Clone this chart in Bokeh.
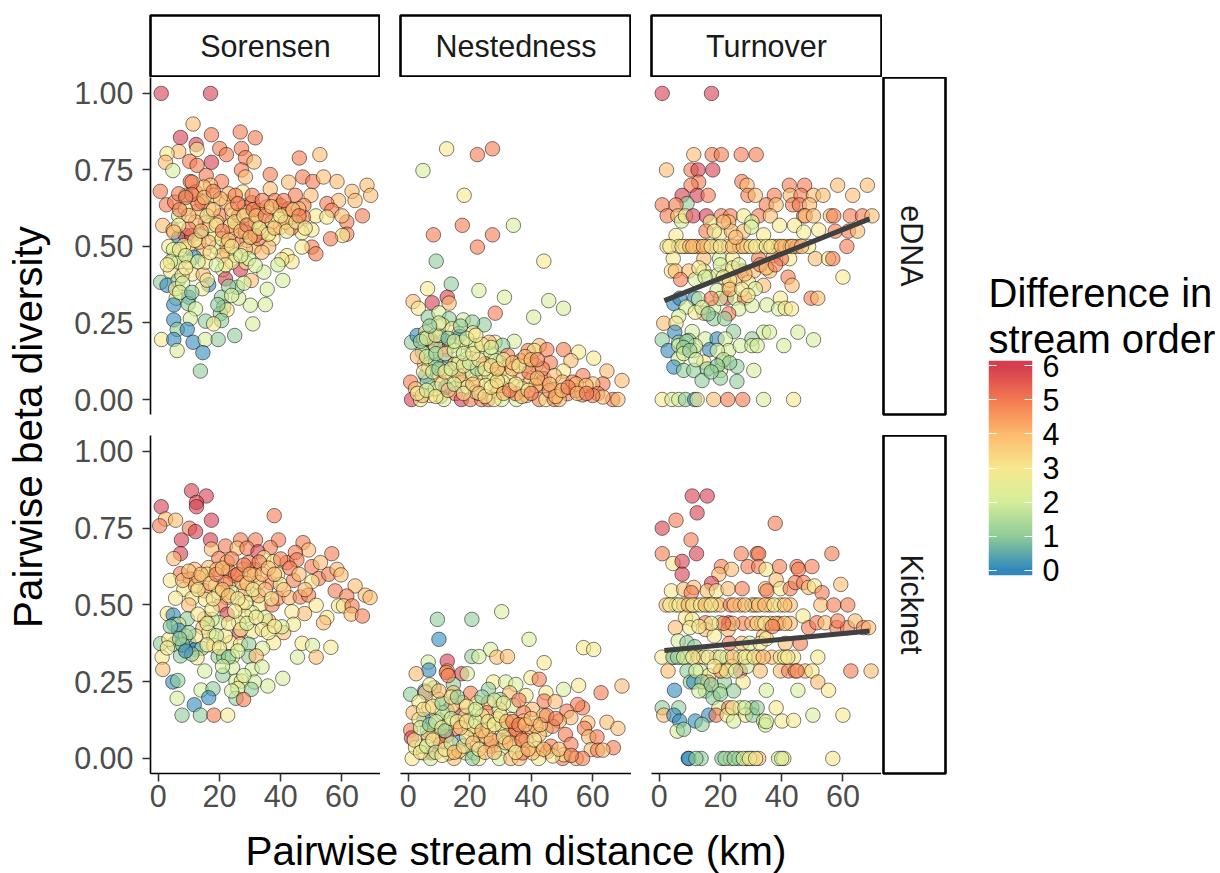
import math
import numpy as np
from bokeh.core.properties import value
from bokeh.embed import file_html
from bokeh.layouts import column, row
from bokeh.models import ColumnDataSource, FixedTicker, LinearAxis, LinearColorMapper, NumeralTickFormatter, Range1d, Title
from bokeh.plotting import figure
from bokeh.resources import INLINE

# (distance km, beta diversity, difference in stream order)
sorensen_edna = [
(1.0,1.0,6),(17.1,1.0,6),(11.4,.90,4),(7.3,.856,6),(17.4,.865,5),(26.8,.874,5),(31.7,.855,5),(12.4,.833,6),(12.7,.817,3),(20.1,.82,5),
(22.3,.80,5),(27.2,.82,5),(6.7,.81,4),(2.9,.803,3),(2.4,.775,4),(4.8,.748,2),(10.3,.778,5),(12.7,.765,5),(17.4,.775,6),(28.5,.79,5),
(31.3,.776,4),(46.1,.789,5),(52.8,.80,4),(27.2,.75,5),(28.5,.727,4),(15.7,.732,5),(10.5,.712,5),(20.7,.712,5),(17.1,.70,4),(36.6,.735,5),
(42.6,.71,4),(47.2,.727,5),(50.5,.712,5),(54,.727,4),(58.4,.712,4),(68.2,.70,4),(63.3,.68,4),(69.4,.667,4),(64.3,.65,4),(58.9,.65,4),
(55.1,.64,5),(66.7,.60,5),(56.7,.618,5),(61.6,.58,5),(60,.60,4),(51.5,.60,3),(55.1,.596,3),(61.6,.54,5),(60.2,.536,3),(56.3,.525,5),
(50.2,.498,5),(51.5,.476,5),(47,.498,3),(50.2,.554,3),(47,.545,3),(42.1,.47,3),(43.7,.45,3),(40.4,.457,3),(39.1,.44,2),(40.7,.389,2),
(35.6,.36,2),(35,.31,2),(30.1,.308,2),(30.9,.247,2),(34.5,.416,2),(26.3,.331,2),(.7,.68,5),(2.7,.636,5),(5.4,.645,5),(9.1,.667,1),
(6.7,.672,5),(1.5,.569,4),(4.9,.554,4),(6.7,.60,2),(6.7,.528,0),(8.9,.536,6),(10.9,.536,6),(13.8,.541,1),(15.4,.577,5),(16.5,.625,3),
(12.7,.614,4),(18.1,.667,3),(22.3,.645,4),(23,.672,4),(27.6,.678,3),(20.3,.60,5),(24.3,.60,3),(25.8,.569,5),(30.4,.585,2),(27.9,.628,5),
(30.7,.643,5),(33.9,.585,3),(36.6,.688,4),(38.1,.65,5),(41,.618,4),(38.8,.60,3),(44.8,.667,5),(49.9,.667,4),(47.6,.634,5),(43.7,.596,3),
(47.4,.596,5),(39.9,.563,4),(43.5,.56,5),(37.5,.525,3),(31.2,.498,4),(36.1,.498,4),(29,.52,2),(25.8,.52,5),(32.8,.525,5),(18.7,.538,3),
(19,.498,2),(22.5,.481,3),(9.8,.498,4),(14.9,.487,4),(5.1,.46,3),(11.8,.465,0),(4,.42,3),(6.7,.449,2),(11.1,.41,3),(14.7,.408,4),
(21.1,.424,2),(22,.394,6),(26.9,.424,6),(28.7,.447,3),(30.4,.389,4),(25.8,.367,1),(.8,.383,1),(2.9,.373,0),(6.5,.389,1),(16.5,.375,0),
(14.4,.362,3),(5.9,.331,2),(10,.334,0),(5.1,.309,0),(9.8,.313,1),(12.2,.296,2),(20.7,.334,1),(21.4,.302,1),(20.3,.28,1),(22.5,.293,3),
(20.7,.258,1),(15.5,.256,1),(18.1,.247,3),(10.5,.264,2),(5.1,.26,0),(6.2,.229,1),(9.5,.229,0),(1.1,.196,3),(5.1,.196,0),(6.2,.16,2),
(11.4,.187,0),(15.4,.196,2),(19.6,.196,1),(25,.209,1),(14.6,.153,0),(13.8,.093,1),(24.1,.547,4),(22.5,.503,4),(28.5,.547,5),(33.9,.547,4),
(31.7,.536,5),(17.1,.569,3),(19.2,.58,4),(12.2,.58,4),(10,.558,5),(13.3,.514,4),(6.7,.569,3),(5.1,.547,4),(8.4,.503,3),(16.5,.514,4),
(20.9,.525,3),(23.6,.569,4),(26.3,.601,5),(29,.612,4),(32.8,.618,5),(35.5,.629,4),(37.2,.58,3),(41.5,.58,4),(39.9,.634,5),(42.6,.623,5),
(45.9,.623,4),(31.7,.58,3),(28.5,.492,4),(25.2,.471,3),(33.9,.481,4),(29.6,.46,2),(31.7,.438,2),(24.1,.449,3),(20.9,.471,4),(15.4,.449,3),
(10,.449,3),(7.8,.405,3),(5.7,.362,3),(12.2,.678,5),(14.9,.694,4),(8.9,.623,3),(14.3,.645,5),(20.3,.656,4),(25.2,.667,5),(30.7,.667,5),
(10,.601,4),(11.1,.71,5),
(3.5,.50,3),(5,.49,2),(7,.49,3),(9,.47,2),(12,.52,3),(14,.55,4),(16,.60,3),(18,.62,4),(19,.57,3),(21,.55,5),(23,.52,4),(24,.62,4),
(25,.58,3),(26,.64,5),(27,.55,4),(28,.60,3),(29,.57,5),(30,.53,4),(31,.62,5),(32,.60,4),(33,.56,3),(34,.65,5),(35,.60,5),(36,.54,3),
(37,.63,4),(38,.56,4),(40,.60,3),(41,.65,5),(42,.55,3),(44,.62,4),(45,.58,3),(46,.60,5),(48,.56,3),(22,.44,3),(24,.50,3),(27,.47,2),
(19,.44,2),(17,.48,3),(13,.45,2),(16,.39,3),(8,.38,2),(7,.35,2),(4,.45,2),(9,.43,3),(3,.44,3),(11,.35,1),(19.5,.31,1),(23,.37,1),
(24,.34,2),(28,.38,2),(13,.64,5),(11,.67,5),(9,.66,5),(7,.62,5),(15,.66,4),(18,.68,5),
]

nestedness_edna = [
(12.5,.819,3),(4.8,.748,2),(22.5,.80,5),(27.4,.819,5),(18.2,.667,3),(17.6,.569,5),(8.2,.538,5),(27.4,.538,5),(22.5,.498,5),(34.2,.569,2),
(9.1,.452,1),(44.1,.452,3),(14,.377,1),(6.3,.362,3),(23,.356,2),(31.3,.334,2),(45.7,.323,2),(50.5,.298,2),(40.8,.269,2),(28.3,.282,5),
(1.6,.32,4),(3.3,.298,3),(7.8,.316,6),(12.7,.334,6),(13.3,.315,4),(6.5,.269,1),(10,.283,2),(13.3,.264,1),(17.9,.26,2),(24.7,.244,1),
(20.9,.253,1),(11.1,.244,3),(1.1,.187,1),(2.9,.209,0),(5.7,.22,3),(7.1,.198,0),(7.8,.187,6),(11.6,.193,0),(14.3,.231,3),(16.5,.215,3),
(16.7,.206,0),(21.1,.218,3),(34.5,.19,2),(28.2,.187,3),(30.7,.177,1),(42.6,.176,4),(39,.16,5),(41,.16,3),(45.1,.163,5),(50.5,.163,5),
(55.4,.155,3),(60.3,.135,3),(52.9,.127,4),(46.2,.12,5),(50.5,.093,3),(64.6,.093,4),(69.5,.062,4),(56.8,.078,5),(63.3,.051,5),(60,.051,4),
(.8,.057,5),(12.5,.163,6),(12,.127,0),(5.7,.078,0),(5.3,.117,4),(6.7,.106,2),(15.2,.117,4),(19.2,.133,2),(20,.179,2),(18.2,.095,1),
(24.1,.155,2),(26.9,.149,2),(32.3,.144,5),(25,.117,5),(29.6,.122,1),(31.7,.106,4),(36.6,.127,5),(41.5,.111,3),(36.4,.086,4),(27.9,.078,3),
(22.5,.062,3),(10,.068,4),(6.2,.057,1),(14.3,.062,2),(17.6,.057,4),(19.2,.04,2),(33.9,.046,3),(39.9,.062,4),(43,.051,5),(44.2,.068,5),
(47.8,.032,4),(51.8,.019,5),(56.7,.015,5),(61.6,.019,5),(66.5,0,5),(68.2,0,4),(1.1,0,6),(10.5,.011,4),(7.3,.013,3),(4,0,3),
(11.6,0,2),(15.4,.019,5),(17.3,0,6),(20.3,0,5),(23.9,0,5),(26,0,5),(29,.024,4),(30.4,0,2),(27.9,0,3),(35.2,0,2),
(38.5,.013,4),(42.6,0,5),(44.8,0,3),(47.5,0,5),(49.1,0,4),(54.6,.029,5),(2.4,.035,4),(4.6,.013,4),(8.9,.035,2),(12.2,.04,0),
(13.3,.078,3),(16.5,.078,4),(20.9,.084,3),(24.1,.089,3),(26.3,.078,2),(29.6,.089,3),(32.8,.078,3),(30.7,.057,3),(28.5,.046,4),(25.2,.046,3),
(22,.024,2),(22.5,.1,1),(16.5,.122,2),(11.1,.1,3),(8.9,.122,1),(7.8,.155,2),(4.6,.155,1),(5.1,.198,3),(8.9,.176,2),(10,.209,1),
(14.3,.176,2),(17.6,.187,3),(22,.176,2),(26.3,.187,4),(28.5,.127,2),(33.9,.1,4),(38.3,.111,3),(39.3,.089,5),(43.7,.1,5),(47.5,.078,4),
(41.5,.046,4),(37.2,.035,3),(35,.019,5),(50.2,.057,4),(53.5,.057,5),(45.9,.029,5),(54.6,.051,4),(57.8,.046,4),(63.3,.008,4),(60,.013,5),
(3,.02,3),(6,.03,2),(9,.01,3),(11,.05,3),(13,.03,4),(15,.05,2),(18,.02,3),(21,.05,4),(23,.02,4),(25,.01,3),(27,.04,3),(29,.06,3),
(31,.02,4),(33,.03,5),(35,.05,3),(37,.01,4),(39,.03,3),(40,.02,5),(42,.07,4),(46,.05,4),(48,.01,4),(50,.03,4),(52,.04,5),(55,.02,4),
(58,.02,5),(5,.09,3),(8,.09,2),(10,.10,1),(12,.09,3),(14,.10,2),(18,.11,3),(20,.12,2),(23,.13,3),(25,.10,3),(27,.11,3),(29,.10,4),
(31,.13,3),(34,.12,4),(36,.11,3),(38,.14,4),(40,.13,4),(42,.13,5),(3,.14,4),(6,.14,2),(9,.15,1),(12,.15,3),(15,.16,2),(18,.15,2),
(21,.15,3),(24,.18,3),(27,.17,2),(4,.19,1),(6,.20,2),(9,.21,3),(13,.20,1),(15,.19,2),(19,.2,2),(22,.21,3),(10,.25,2),(7,.24,1),(17,.24,1),
]

turnover_edna = [
(1,1,6),(17.1,1,6),(11.3,.80,4),(17.3,.80,5),(20.3,.80,5),(26.8,.80,5),(31.7,.80,5),(2.4,.75,4),(10.4,.75,5),(12.7,.75,6),
(17.5,.75,6),(12.9,.71,5),(10.4,.70,5),(27,.712,5),(28.7,.70,4),(42.5,.70,5),(47.5,.70,5),(58.3,.70,4),(68,.70,4),(7.5,.667,6),
(12.4,.667,6),(16,.667,5),(29,.667,5),(31.4,.667,4),(37.6,.667,5),(42.8,.667,4),(46.3,.667,5),(50.4,.667,4),(53.5,.667,4),(63.2,.667,4),
(9.1,.64,1),(1,.636,5),(5.5,.636,5),(35,.636,5),(38.2,.636,4),(43.6,.636,5),(45.8,.636,5),(49.1,.636,4),(2.6,.60,5),(6.1,.60,4),
(7.3,.583,2),(8.6,.60,3),(11.1,.60,6),(15.4,.60,6),(20.3,.60,5),(23.3,.60,5),(27.6,.60,3),(32.5,.60,5),(36.3,.60,4),(47.2,.60,5),
(47.7,.60,4),(50.4,.60,4),(55.9,.60,4),(57,.60,5),(62.4,.60,5),(66.4,.60,5),(69.5,.60,4),(16.7,.58,3),(22.7,.58,4),(30.3,.58,2),
(5.5,.536,3),(15.3,.55,5),(19.7,.54,3),(23.6,.55,4),(27.6,.55,4),(30.1,.563,2),(34.1,.538,3),(39.3,.569,3),(44.2,.569,3),(47.2,.547,3),
(52.1,.554,3),(57.5,.55,5),(61.8,.55,5),(64.8,.55,4),(2.6,.50,3),(6.4,.50,3),(8.6,.50,4),(12.1,.50,4),(13.5,.50,4),(15.7,.50,4),
(18.6,.50,4),(22.7,.50,4),(26.3,.50,4),(28.7,.50,3),(33,.50,3),(37.4,.50,3),(39,.50,4),(41.2,.50,4),(42.8,.50,4),(45,.50,5),
(48.8,.50,3),(61.3,.50,5),(4.6,.46,3),(14.6,.46,4),(19.7,.46,2),(24,.46,3),(32.5,.46,5),(37.4,.47,4),(42.6,.46,3),(39.9,.46,5),
(51,.46,4),(55.3,.46,3),(56.7,.46,5),(4,.42,3),(5.3,.42,4),(9.7,.42,4),(14.6,.42,3),(22.2,.42,3),(27.1,.42,5),(30.9,.42,4),
(36.1,.42,4),(42.1,.40,5),(60,.40,3),(7,.392,5),(11.8,.392,2),(16.2,.40,2),(19.2,.407,2),(24.9,.394,4),(29.2,.383,3),(43.4,.373,4),
(34.1,.373,4),(31.4,.362,2),(22.7,.367,4),(18.9,.356,2),(4.8,.313,0),(6.7,.331,0),(11.6,.331,0),(12.9,.329,2),(22,.331,6),(24.7,.331,2),
(27.9,.331,5),(39.6,.331,3),(49.6,.331,5),(51.8,.331,4),(8.8,.302,2),(17.8,.30,2),(26,.296,2),(30.3,.307,2),(35.2,.309,2),(39,.296,2),
(41.2,.298,3),(43.2,.296,3),(14.6,.282,4),(11.8,.285,3),(6.4,.272,2),(17.8,.264,1),(22.7,.28,5),(21.4,.264,1),(1.5,.249,4),(5.5,.249,3),
(5.1,.22,0),(10.8,.222,2),(24.3,.222,1),(34.1,.22,2),(36,.22,2),(45.3,.22,2),(1,.195,1),(6.4,.187,1),(9.7,.193,1),(15.1,.198,2),
(18.9,.198,0),(21.6,.198,2),(30.3,.198,1),(50.4,.195,2),(2.9,.16,0),(6.4,.176,2),(11.3,.16,2),(16.5,.163,0),(22.7,.16,2),(26.5,.176,2),
(30.3,.176,2),(32,.176,2),(40.7,.176,2),(11.8,.176,2),(6.2,.133,2),(14.6,.122,3),(20.5,.124,1),(4.8,.106,0),(8,.095,1),(11.3,.095,1),
(15.7,.1,1),(20,.095,2),(25.4,.108,1),(30.9,.095,2),(14,.062,1),(25.4,.059,1),(1,0,3),(4.2,0,2),(6.4,0,2),(8.6,0,1),
(11.6,0,0),(12.4,0,3),(17.8,0,4),(22.4,0,5),(27.3,0,5),(34.1,0,2),(43.9,0,3),
(3.5,.50,3),(7.5,.5,3),(10,.5,4),(11,.5,4),(14.5,.5,4),(17,.5,3),(20,.5,3),(24,.5,4),(27.5,.5,4),(30,.5,3),(31.5,.5,3),(35,.5,3),
(36.5,.5,3),(40,.5,4),(43.5,.5,4),(46.5,.5,4),(21,.58,4),(25,.53,4),(18,.55,3),(20,.44,2),(24,.43,3),(26,.44,2),(21,.4,3),(23,.39,3),
(28,.41,4),(33,.44,5),(35,.43,4),(38,.44,5),(13,.43,3),(15,.4,2),(20,.33,2),(17,.33,5),(23,.36,4),(27,.36,3),(29,.34,3),(14,.3,2),
(16,.28,1),(9,.19,1),(8,.17,1),(8,.15,2),(10,.16,1),(12,.13,2),(19,.16,2),(21,.13,2),(23,.12,1),(19,.11,1),(20,.07,1),(17,.09,1),
]

sorensen_kick = [
(10.9,.872,6),(15.7,.855,6),(12.5,.834,6),(12.5,.82,6),(1,.82,6),(2.4,.78,4),(5.7,.776,4),(.5,.758,5),(17.4,.776,6),(10.2,.75,5),
(12.2,.739,6),(37.9,.791,5),(7.6,.712,6),(17.1,.712,6),(17.4,.682,4),(22,.692,5),(26.9,.712,5),(31.8,.712,5),(39.3,.712,5),(25.8,.685,4),
(29,.685,5),(36.6,.687,5),(32.6,.673,6),(47.3,.703,5),(49.1,.679,4),(56.7,.667,5),(7.3,.667,6),(5.1,.651,4),(19.8,.651,5),(22.5,.64,4),
(34.5,.654,3),(37.7,.641,3),(42.1,.638,5),(44.8,.671,5),(45.3,.647,5),(50.2,.625,5),(53,.638,4),(52.4,.586,5),(55.7,.6,5),(58.4,.616,4),
(59.7,.598,4),(64.3,.562,4),(50.2,.576,3),(7.3,.602,5),(11.9,.616,4),(10.5,.584,5),(16.5,.622,4),(16,.6,3),(4,.58,3),(19.2,.616,4),
(23.6,.578,4),(27.9,.616,3),(31.2,.616,5),(31.4,.598,4),(36.6,.573,5),(39,.6,3),(39.9,.567,3),(44.2,.58,5),(15.2,.546,5),(18.7,.562,3),
(8.4,.551,3),(11.1,.522,3),(5.7,.522,3),(10,.5,4),(15.4,.518,3),(22.5,.524,3),(20.3,.5,5),(27.4,.5,3),(30.4,.535,2),(27.9,.546,4),
(33.4,.502,3),(37.2,.5,5),(39.1,.522,5),(42.8,.524,4),(46.4,.526,5),(49.1,.532,5),(51.6,.499,3),(57.8,.546,5),(61.6,.529,5),(67.6,.532,4),
(69.2,.524,4),(58.9,.497,3),(60.5,.497,3),(63.3,.497,5),(63,.47,4),(66.7,.464,5),(55.1,.459,3),(54,.442,4),(47.8,.472,4),(43.7,.478,3),
(41,.41,4),(44.2,.437,3),(40.4,.429,2),(37.7,.377,3),(36.1,.448,4),(34.9,.459,2),(30.7,.475,2),(28.5,.464,3),(22.5,.47,6),(20,.442,2),
(17.6,.453,2),(15.2,.455,4),(14.6,.426,4),(26.5,.41,6),(30.9,.413,3),(3,.472,3),(4.9,.467,0),(9.5,.455,1),(5.1,.437,0),(6.7,.437,2),
(6.7,.418,0),(18.2,.393,2),(23.6,.377,3),(26.9,.372,3),(29.6,.372,1),(34.1,.359,2),(47,.375,3),(50.4,.368,2),(56.4,.362,3),(45.5,.33,2),
(51.6,.33,4),(.8,.374,1),(5.1,.372,1),(10,.377,0),(12.2,.355,0),(14.3,.359,1),(18.2,.368,3),(1.3,.33,3),(7.3,.334,1),(12.7,.328,3),
(19.6,.332,1),(21.4,.332,1),(24.3,.332,2),(29.6,.332,1),(32,.334,4),(1.5,.29,4),(15.2,.285,2),(24.3,.296,2),(30.7,.29,2),(33.9,.298,2),
(21.1,.271,1),(4.8,.249,0),(6.4,.254,1),(40.7,.261,2),(35.8,.236,2),(31.4,.249,2),(25.4,.252,2),(27.2,.252,3),(30.4,.225,1),(14,.223,2),
(17.9,.227,1),(16.5,.198,0),(26,.228,2),(25.4,.196,1),(27.9,.192,5),(6.2,.196,2),(11.8,.175,0),(7.8,.141,1),(13.8,.141,1),(18.2,.141,5),
(22.7,.141,3),(23,.611,5),(25.2,.595,5),(29.5,.638,5),(32.8,.573,4),(27.4,.573,4),(22,.573,5),(19.8,.54,3),(12.2,.562,4),(13.3,.589,4),
(24,.54,2),(28.5,.508,3),(32.8,.53,4),(17.6,.486,3),(26.3,.442,3),(21.9,.399,3),(16.5,.41,3),(12.2,.399,3),(8.9,.399,2),(3.5,.388,3),
(8,.58,4),(10,.61,4),(13,.55,3),(14,.6,4),(17,.57,4),(18,.52,3),(19,.6,5),(21,.62,4),(21,.55,4),(23,.53,4),(24,.65,5),(26,.6,5),
(26,.52,3),(28,.63,5),(29,.57,4),(30,.6,4),(31,.55,3),(33,.64,5),(34,.6,4),(35,.55,4),(36,.62,4),(37,.52,3),(38,.6,4),(40,.65,5),
(41,.55,4),(43,.62,5),(46,.6,4),(48,.55,4),(13,.47,3),(16,.44,2),(19,.4,2),(23,.44,3),(25,.48,3),(27,.42,3),(29,.44,2),(32,.46,3),
(34,.42,3),(36,.41,3),(38,.43,3),(10,.41,1),(8,.37,1),(11,.34,1),(16,.37,3),(20,.36,3),(23,.33,1),(26,.35,2),(21,.3,2),(28,.27,2),
(24,.22,2),(7,.39,1),(4,.43,1),(3,.36,3),(9,.35,0),
]

nestedness_kick = [
(30.4,.478,2),(9.5,.453,1),(20.7,.453,1),(10,.388,0),(39.3,.388,2),(57,.361,3),(60.3,.355,3),(26.8,.355,2),(20.7,.332,1),(23,.332,2),
(28.8,.33,4),(32.3,.332,4),(12.7,.317,6),(6.5,.314,2),(6.7,.288,0),(2.6,.276,4),(12.7,.285,4),(12.4,.28,5),(17.4,.276,6),(19.2,.276,2),
(44.2,.312,3),(39.9,.263,3),(42.6,.258,5),(27.7,.249,3),(31.7,.249,2),(35,.241,2),(14.7,.241,1),(8.4,.23,1),(.8,.209,1),(5.4,.22,0),
(5.6,.215,4),(14.7,.214,4),(20.3,.212,5),(26.1,.225,1),(38.3,.205,3),(33,.214,4),(29.9,.192,1),(44.8,.214,3),(50.5,.225,2),(55.4,.238,3),
(69.5,.236,4),(62.7,.214,5),(10,.192,3),(3.5,.184,3),(17.6,.182,4),(22.5,.182,3),(26.1,.182,4),(34.2,.173,2),(44.2,.187,5),(47.8,.185,4),
(56.7,.165,5),(55.1,.176,5),(6.7,.165,4),(1.6,.149,4),(12.7,.154,1),(17.4,.141,6),(21.5,.154,2),(25.5,.149,5),(29.6,.16,2),(40.4,.16,4),
(44,.14,3),(51.6,.154,5),(52.9,.133,4),(5.1,.127,0),(10,.125,1),(37.5,.149,5),(37.5,.122,4),(33.4,.127,3),(29,.129,3),(49.1,.122,4),
(58.4,.116,4),(64.6,.118,4),(68.2,.098,4),(57.3,.098,5),(.8,.092,5),(6.2,.092,1),(15.4,.098,5),(19.8,.098,3),(24.7,.109,2),(31.5,.097,4),
(39.3,.089,5),(44.8,.095,3),(42.6,.078,4),(51.1,.078,5),(1.1,.067,6),(8.4,.089,2),(10,.073,3),(12.4,.073,6),(16.7,.053,0),(10.5,.046,5),
(23.6,.07,3),(22,.078,4),(28.5,.057,5),(26.8,.04,5),(36.1,.073,4),(38.3,.059,4),(30.4,.033,2),(34.5,.04,3),(41.8,.032,4),(45.3,.022,5),
(46.4,.04,5),(52.9,.046,5),(58.7,.07,4),(61.4,.07,5),(66.7,.035,5),(59.5,.029,4),(61.6,.027,5),(63.3,.027,4),(1.3,0,3),(5.1,.018,3),
(7.6,.018,6),(7.3,0,2),(14.9,0,4),(18.7,.018,2),(21.4,.018,1),(23,0,3),(20.9,0,1),(29.6,0,2),(33.4,0,4),(36.1,0,4),
(42.4,0,3),(50.2,0,5),(50.6,.012,3),(54.6,0,4),(56.7,0,5),(2.4,.035,3),(4.6,.04,2),(13.3,.018,3),(16.5,.024,4),(25.2,.073,4),
(32.8,.078,5),(31.7,.051,4),(40.4,.018,4),(37.2,.018,5),(47,.008,3),(6.7,.073,4),(13.3,.116,3),(18.7,.138,3),(14.3,.171,4),(24.1,.138,3),
(26.3,.095,3),(21.4,.105,3),(30.7,.105,2),(35,.095,5),(41.5,.105,4),(46.9,.105,5),(11.1,.149,2),(3.5,.127,3),
(2,.06,3),(4,.02,3),(6,.04,2),(8,.06,3),(9,.02,2),(11,.01,3),(12,.03,3),(14,.05,2),(15,.02,4),(18,.04,3),(19,.07,3),(21,.05,4),
(23,.03,3),(25,.02,4),(27,.06,4),(28,.02,4),(31,.07,3),(33,.05,4),(35,.02,3),(37,.06,5),(39,.03,4),(41,.06,3),(44,.03,4),(49,.03,4),
(53,.01,5),(4,.1,2),(7,.11,1),(9,.12,2),(11,.1,3),(12,.09,1),(14,.13,2),(16,.12,3),(17,.1,4),(19,.12,3),(22,.12,2),(24,.09,4),
(26,.12,3),(28,.11,3),(30,.14,3),(32,.12,4),(34,.12,5),(36,.11,5),(38,.11,4),(40,.13,4),(43,.11,4),(45,.14,5),(48,.13,5),(5,.16,3),
(8,.17,3),(11,.18,1),(14,.2,3),(16,.2,1),(19,.17,3),(22,.16,2),(24,.2,1),(28,.19,2),(31,.18,3),(36,.19,5),(7,.24,3),(10,.22,4),(13,.27,5),
]

turnover_kick = [
(10.8,.855,6),(15.7,.855,6),(12.4,.80,6),(1,.75,6),(5.5,.776,5),(37.9,.766,5),(10.4,.712,5),(1,.667,5),(12.2,.667,6),(26.8,.667,5),
(32,.667,5),(32.5,.667,5),(56.4,.667,5),(4.5,.635,3),(7.5,.642,6),(7.5,.60,6),(20.3,.625,5),(23.6,.616,4),(19.5,.60,4),(29,.625,5),
(32.5,.625,5),(34.9,.616,3),(39.3,.625,5),(45,.625,5),(45.5,.616,5),(49.9,.625,5),(17.1,.57,6),(4,.546,3),(8,.551,4),(11.3,.557,4),
(10.5,.54,5),(15.7,.546,4),(18.7,.546,3),(22.5,.553,4),(27.1,.553,5),(34.7,.553,4),(35.2,.546,5),(38.2,.582,4),(39.6,.553,3),(42.8,.553,5),
(44.5,.573,5),(47.2,.573,5),(48.8,.557,4),(50.7,.562,3),(53.2,.54,5),(59.3,.567,4),(2.3,.50,4),(5.5,.50,3),(8,.50,4),(12.1,.50,3),
(16.2,.50,3),(18.4,.50,3),(20,.50,4),(23.3,.50,5),(26.5,.50,4),(30.3,.50,2),(31.4,.50,4),(36.1,.50,4),(39.6,.50,3),(42.8,.50,4),
(52.8,.50,4),(57,.50,5),(61.6,.50,5),(8.6,.459,3),(10.8,.453,3),(5.3,.426,4),(10,.426,3),(15.1,.442,5),(19.7,.442,2),(22.7,.442,6),
(15.1,.42,4),(22.5,.42,4),(27.4,.44,5),(30.3,.44,4),(33.5,.44,3),(36.3,.44,4),(39,.44,5),(42.8,.44,4),(47,.464,3),(48.8,.426,5),
(51.5,.442,5),(54.2,.442,4),(58,.426,5),(61.5,.426,5),(64,.448,4),(66.7,.426,5),(68.4,.426,4),(58.3,.448,5),(18,.399,3),(34.1,.399,4),
(6.2,.383,2),(9.1,.377,1),(11.6,.364,1),(22.9,.375,5),(27,.375,4),(29.6,.375,2),(33,.375,3),(41.2,.375,4),(46.1,.375,5),(.9,.33,3),
(4.8,.33,0),(7,.33,2),(9.1,.33,2),(12.9,.33,4),(14.6,.33,2),(18.7,.33,4),(22.2,.33,3),(26.5,.33,2),(29.2,.33,3),(32.5,.33,4),
(36.8,.33,4),(39.6,.33,3),(43.9,.33,3),(51.8,.33,3),(2.9,.285,4),(9.1,.285,1),(13.5,.285,2),(20.3,.285,5),(23.8,.30,3),(26.5,.285,6),
(28.7,.30,2),(33,.285,4),(39.6,.285,4),(42.3,.285,5),(44.5,.285,4),(47.7,.285,4),(49.9,.285,3),(62.6,.285,5),(69.2,.285,4),(16.2,.27,3),
(10.2,.249,1),(11.3,.249,0),(16,.249,4),(21.3,.249,1),(27.4,.249,3),(51.8,.249,4),(5,.222,0),(15.1,.22,1),(19.7,.22,2),(24.3,.22,1),
(35,.222,2),(45.3,.222,2),(55.3,.222,3),(17.6,.198,1),(1,.165,1),(6.4,.165,1),(19.5,.165,2),(22.7,.165,5),(26.5,.165,2),(30.3,.165,1),
(38.2,.165,3),(1.5,.141,4),(4.8,.141,0),(16.2,.141,0),(18.6,.141,5),(22.2,.141,3),(28.2,.141,3),(30.5,.141,1),(50.2,.141,2),(60,.141,3),
(6.7,.122,0),(11.8,.122,0),(14,.111,1),(24.3,.122,2),(34.1,.122,2),(40.1,.122,3),(43.9,.124,3),(5.9,.089,2),(8,.095,1),(34.7,.109,2),
(9.5,0,0),(9.7,0,0),(13.7,0,1),(20.5,0,1),(23.3,0,2),(26,0,1),(28.7,0,3),(30.3,0,2),(32.5,0,4),(39,0,2),
(40.7,0,3),(56.7,0,3),
(3.5,.5,3),(6.5,.5,3),(9.5,.5,4),(11,.5,3),(13.5,.5,3),(15,.5,4),(17,.5,3),(24.5,.5,4),(28,.5,4),(32.5,.5,4),(34.5,.5,4),(37.5,.5,3),
(41,.5,4),(4.5,.33,2),(6,.33,1),(8,.33,2),(11,.33,3),(16,.33,3),(20,.33,2),(24,.33,4),(28,.33,3),(31,.33,3),(34,.33,4),(41,.33,3),
(42,.33,3),(24,.44,4),(21,.44,5),(17,.44,3),(13,.43,3),(32,.44,4),(34.5,.44,3),(38,.44,4),(41,.44,4),(45,.285,5),(20,.285,4),(22,.285,3),
(25,.285,2),(18,.3,3),(12,.285,2),(14,.25,1),(13,.22,2),(17,.24,1),(20,.21,1),(24,.165,3),(28,.165,2),(32,.165,1),(35,.12,2),(12,0,1),
(21.5,0,1),(24.5,0,1),(27.5,0,2),(29.5,0,3),(31.5,0,3),(40,0,2),(35,.39,3),(37,.43,5),
]

fit_km = [1.7, 68.7]
fit_turnover_edna = [0.323, 0.59]
fit_turnover_kick = [0.352, 0.415]

facet_columns = ["Sorensen", "Nestedness", "Turnover"]
facet_rows = ["eDNA", "Kicknet"]
x_ticks = [0, 20, 40, 60]
y_ticks = [0, 0.25, 0.5, 0.75, 1.0]
order_ticks = [0, 1, 2, 3, 4, 5, 6]
order_anchor_colors = ["#3288BD", "#90CC98", "#D6EE9B", "#F6E88E", "#FDBB6D", "#F47A50", "#D53E4F"]

FONT = "Liberation Sans"


def build_palette(n=256):
    rgb = np.array([[int(c[i:i + 2], 16) for i in (1, 3, 5)] for c in order_anchor_colors], dtype=float)
    pos = np.linspace(0, 1, n) * (len(rgb) - 1)
    out = []
    for t in pos:
        v = [np.interp(t, range(len(rgb)), rgb[:, k]) for k in range(3)]
        out.append("#%02X%02X%02X" % tuple(int(round(a)) for a in v))
    return out


mapper = LinearColorMapper(palette=build_palette(), low=0, high=6)
XR = (-2.5, 72.6)
YR = (-0.049, 1.052)


def bare(width, height, left=0, right=0, top=0, bottom=0, outline=False):
    p = figure(width=width, height=height, toolbar_location=None, output_backend="svg",
               x_range=Range1d(0, 1), y_range=Range1d(0, 1), x_axis_type=None, y_axis_type=None,
               min_border_left=left, min_border_right=right, min_border_top=top, min_border_bottom=bottom,
               background_fill_color=None, border_fill_color=None, frame_align=False)
    p.grid.visible = False
    if outline:
        p.outline_line_color = "black"
        p.outline_line_width = 2.6
    else:
        p.outline_line_color = None
    return p


def put_text(p, txt, x=0.5, y=0.5, size="30.5px", color="#1A1A1A", angle=0.0, align="center", baseline="middle"):
    p.text(x=[x], y=[y], text=[txt], text_font=value(FONT), text_font_size=value(size), text_color=color,
           text_align=align, text_baseline=baseline, angle=angle)


def panel(points, width, height, left, bottom, show_y, show_x, fit=None):
    p = figure(width=width, height=height, toolbar_location=None, output_backend="svg",
               x_range=Range1d(*XR), y_range=Range1d(*YR), x_axis_type=None, y_axis_type=None,
               min_border_left=left, min_border_right=0, min_border_top=0, min_border_bottom=bottom, frame_align=False)
    p.grid.visible = False
    p.outline_line_color = None
    src = ColumnDataSource(dict(km=[t[0] for t in points], beta=[t[1] for t in points], order=[t[2] for t in points]))
    p.scatter("km", "beta", source=src, size=14.5, fill_color={"field": "order", "transform": mapper}, fill_alpha=0.6,
              line_color="black", line_alpha=0.5, line_width=1)
    if fit:
        p.line(fit_km, fit, line_color="#404040", line_width=5)
    for side, ticks, on in (("left", y_ticks, show_y), ("below", x_ticks, show_x)):
        if not on:
            continue
        ax = LinearAxis(ticker=FixedTicker(ticks=ticks))
        if side == "left":
            ax.formatter = NumeralTickFormatter(format="0.00")
        ax.axis_line_color = "black"
        ax.axis_line_width = 1.6
        ax.major_tick_line_color = "#333333"
        ax.major_tick_line_width = 1.6
        ax.major_tick_out = 8
        ax.major_tick_in = 0
        ax.minor_tick_line_color = None
        ax.major_label_text_font = FONT
        ax.major_label_text_font_size = "30.5px"
        ax.major_label_text_color = "#4D4D4D"
        ax.major_label_standoff = 9 if side == "left" else 3
        p.add_layout(ax, side)
    return p


# Strips along the top
strip_a = bare(328, 77, left=98, top=15, bottom=1, outline=True)
strip_b = bare(251, 77, left=20, top=15, bottom=1, outline=True)
strip_c = bare(251, 77, left=20, right=1, top=15, bottom=1, outline=True)
for s, name in zip((strip_a, strip_b, strip_c), facet_columns):
    put_text(s, name)

H1, B1 = 358, 21
H2, B2 = 386, 48
r1 = [panel(sorensen_edna, 328, H1, 98, B1, True, False),
      panel(nestedness_edna, 251, H1, 20, B1, False, False),
      panel(turnover_edna, 250, H1, 20, B1, False, False, fit_turnover_edna)]
r2 = [panel(sorensen_kick, 328, H2, 98, B2, True, True),
      panel(nestedness_kick, 251, H2, 20, B2, False, True),
      panel(turnover_kick, 250, H2, 20, B2, False, True, fit_turnover_kick)]

side1 = bare(66, H1, left=2, right=2, bottom=B1, outline=True)
side2 = bare(66, H2, left=2, right=2, bottom=B2, outline=True)
put_text(side1, facet_rows[0], x=0.46, angle=-math.pi / 2)
put_text(side2, facet_rows[1], x=0.46, angle=-math.pi / 2)

xlabel = bare(829, 52, left=98)
put_text(xlabel, "Pairwise stream distance (km)", y=0.44, size="40.4px", color="black")

grid = column(row(strip_a, strip_b, strip_c),
              row(*r1, side1),
              row(*r2, side2),
              xlabel)

ylabel = bare(52, 873, left=51, bottom=20)
ylabel.add_layout(Title(text="Pairwise beta diversity", align="center", text_font=FONT, text_font_size="40.4px",
                        text_color="black", text_font_style="normal", standoff=2), "left")

# Colour legend
LOW, HIGH = -0.15, 6.15
legend = figure(width=273, height=873, toolbar_location=None, output_backend="svg",
                x_range=Range1d(0, 1), y_range=Range1d(LOW, HIGH), x_axis_type=None, y_axis_type=None,
                min_border_left=41, min_border_right=188, min_border_top=360, min_border_bottom=298, frame_align=False)
legend.grid.visible = False
legend.outline_line_color = None
legend.image(image=[np.linspace(LOW, HIGH, 256).reshape(256, 1)], x=0, y=LOW, dw=1, dh=HIGH - LOW,
             color_mapper=mapper)
for side, labels in (("left", False), ("right", True)):
    ax = LinearAxis(ticker=FixedTicker(ticks=order_ticks))
    ax.axis_line_color = None
    ax.major_tick_line_color = "white"
    ax.major_tick_line_width = 1
    ax.major_tick_in = 8
    ax.major_tick_out = 0
    ax.minor_tick_line_color = None
    if labels:
        ax.major_label_text_font = FONT
        ax.major_label_text_font_size = "30.5px"
        ax.major_label_text_color = "black"
        ax.major_label_standoff = 10
    else:
        ax.major_label_text_font_size = "0px"
        ax.major_label_text_color = None
    legend.add_layout(ax, side)
for txt in ("stream order", "Difference in"):
    legend.add_layout(Title(text=txt, align="left", text_font=FONT, text_font_size="40px", text_color="black",
                            text_font_style="normal", standoff=0), "above")

root = row(ylabel, grid, legend)
open("out.html", "w").write(file_html(root, INLINE))
